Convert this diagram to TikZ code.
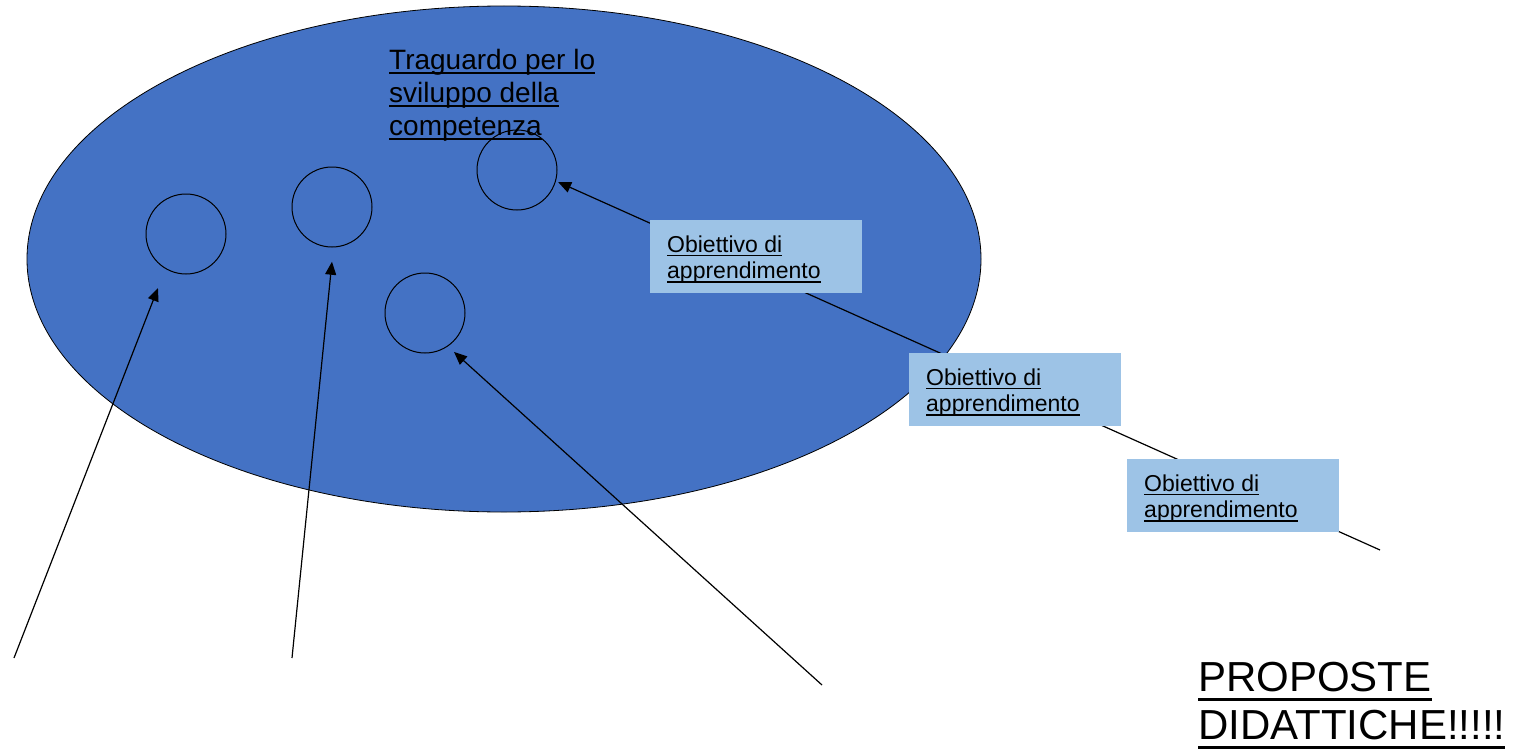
\documentclass[tikz,border=0pt]{standalone}
\usepackage{fontspec}
\setmainfont{Liberation Sans}
\usetikzlibrary{arrows.meta,shapes.geometric}
\definecolor{ellblue}{HTML}{4472C4}
\definecolor{boxblue}{HTML}{9DC3E6}
\newcommand\myul[2][0.17em]{\leavevmode\setbox0=\hbox{#2}\rlap{\rule[-#1]{\wd0}{0.07em}}\box0}
\newcommand\boxtext[1]{\raisebox{-3pt}[\height][\depth]{\parbox{178pt}{\raggedright #1}}}
\tikzset{
  circ/.style={draw=black, line width=1pt, circle, minimum size=80pt, inner sep=0pt},
  arr/.style={draw=black, line width=1.2pt, -{Triangle[length=13pt,width=11pt]}},
  obox/.style={fill=boxblue, anchor=north west, minimum width=212pt, minimum height=73pt,
    inner xsep=17pt, inner ysep=0pt,
    font=\fontsize{23}{26.6}\selectfont},
}
\begin{document}
\begin{tikzpicture}[x=1pt,y=-1pt]
\useasboundingbox (0,0) rectangle (1513,752);
\fill[white] (0,0) rectangle (1513,752);
\node[draw=black, line width=0.8pt, ellipse, fill=ellblue, minimum width=954pt, minimum height=506pt, inner sep=0pt] (ell) at (504,259) {};
\node[anchor=north west, inner sep=0pt, align=left, font=\fontsize{28}{33}\selectfont] (title) at (389,49)
  {\myul{Traguardo per lo}\\\myul{sviluppo della}\\\myul{competenza}};
\node[circ] (c1) at (186,234) {};
\node[circ] (c2) at (332,207) {};
\node[circ] (c3) at (517,170) {};
\node[circ] (c4) at (425,313) {};
\coordinate (t1) at (14,658);
\coordinate (t2) at (292,658);
\coordinate (t4) at (822,685);
\coordinate (t3) at (1380,550);
\draw[arr, shorten >=58pt] (t1) -- ([xshift=-7pt]c1.center);
\draw[arr, shorten >=55pt] (t2) -- ([xshift=5.5pt]c2.center);
\draw[arr, shorten >=58pt] (t4) -- ([xshift=-14pt]c4.center);
\draw[arr, shorten >=45pt] (t3) -- ([yshift=6.4pt]c3.center);
\node[obox] (b1) at (650,220) {\boxtext{\myul{Obiettivo di}\\\myul{apprendimento}}};
\node[obox] (b2) at (909,353) {\boxtext{\myul{Obiettivo di}\\\myul{apprendimento}}};
\node[obox] (b3) at (1127,459) {\boxtext{\myul{Obiettivo di}\\\myul{apprendimento}}};
\node[anchor=north west, inner sep=0pt, align=left, font=\fontsize{42}{48}\selectfont] (prop) at (1198,662)
  {\myul[0.22em]{PROPOSTE}\\\myul[0.22em]{DIDATTICHE!!!!!}};
\end{tikzpicture}
\end{document}
